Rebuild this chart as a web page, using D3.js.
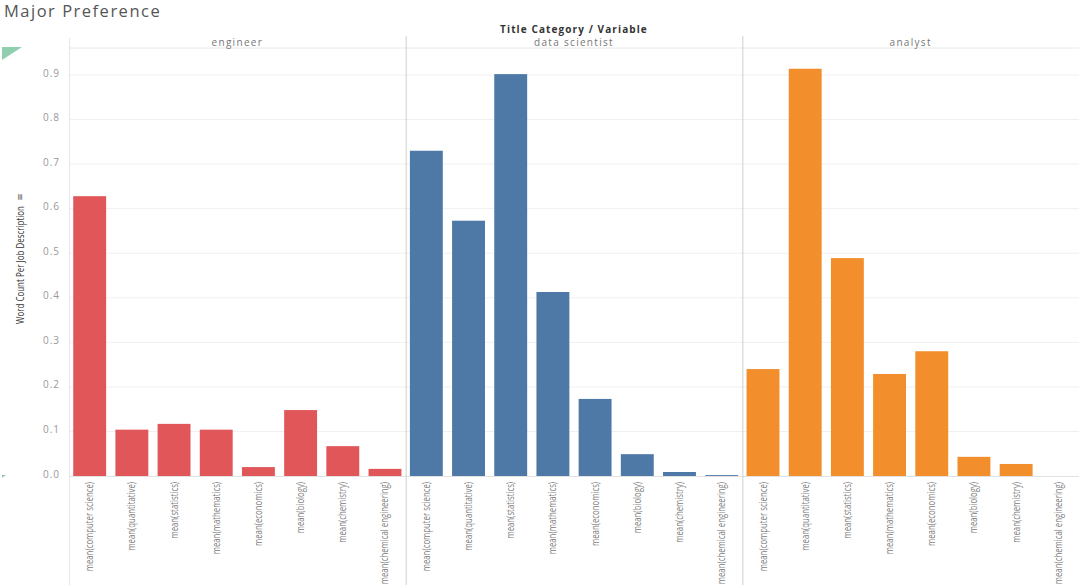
<!DOCTYPE html>
<html><head><meta charset="utf-8">
<script src="https://cdn.jsdelivr.net/npm/d3@7"></script>
<style>
body{margin:0;background:#fff;}
svg{display:block;}
</style></head>
<body>
<svg id="c" width="1080" height="585"></svg>
<script>
const panels = ["engineer", "data scientist", "analyst"];
const variables = ["mean(computer science)", "mean(quantitative)", "mean(statistics)", "mean(mathematics)", "mean(economics)", "mean(biology)", "mean(chemistry)", "mean(chemical engineering)"];
const engineerValues = [0.628, 0.104, 0.117, 0.104, 0.020, 0.148, 0.067, 0.016];
const dataScientistValues = [0.730, 0.573, 0.902, 0.413, 0.173, 0.049, 0.009, 0.002];
const analystValues = [0.240, 0.914, 0.489, 0.229, 0.280, 0.043, 0.027, 0.0];
const panelColors = ["#e15759", "#4e79a7", "#f28e2b"];
const yTicks = [0.0, 0.1, 0.2, 0.3, 0.4, 0.5, 0.6, 0.7, 0.8, 0.9];
const seriesValues = [engineerValues, dataScientistValues, analystValues];

const svg = d3.select("#c");
const plotLeft = 69, plotRight = 1079, plotTop = 48, plotBottom = 476;

const px = d3.scaleBand().domain(panels).range([plotLeft, plotRight]);
const y = d3.scaleLinear().domain([0, 0.9]).range([plotBottom, 75]);

// title
svg.append("text").attr("x", 4).attr("y", 17).text("Major Preference")
  .attr("font-family", "Open Sans, sans-serif").attr("font-size", 16.5).attr("fill", "#555").attr("letter-spacing", 1.5);

svg.append("text").attr("x", (plotLeft + plotRight) / 2).attr("y", 33).attr("text-anchor", "middle")
  .text("Title Category / Variable").attr("font-family", "Open Sans, sans-serif")
  .attr("font-size", 10).attr("font-weight", "bold").attr("fill", "#333").attr("letter-spacing", 1.1);

// gridlines
svg.append("g").selectAll("line").data(yTicks.slice(1)).join("line")
  .attr("x1", plotLeft).attr("x2", plotRight).attr("y1", d => y(d)).attr("y2", d => y(d))
  .attr("stroke", "#f0f0f0").attr("stroke-width", 1);
svg.append("line").attr("x1", plotLeft).attr("x2", plotRight).attr("y1", plotTop).attr("y2", plotTop)
  .attr("stroke", "#e8e8e8");

// y axis
const yAxis = d3.axisLeft(y).tickValues(yTicks).tickFormat(d3.format(".1f")).tickSize(0).tickPadding(9);
const ga = svg.append("g").attr("transform", `translate(${plotLeft},0)`).call(yAxis);
ga.select(".domain").remove();
ga.selectAll("text").attr("font-family", "Open Sans, sans-serif").attr("font-size", 10).attr("fill", "#999")
  .attr("letter-spacing", 1).attr("dy", "0.1em");

svg.append("text").attr("transform", `translate(24,${(plotTop + plotBottom) / 2 + 3}) rotate(-90) scale(0.76,1)`)
  .attr("text-anchor", "middle").text("Word Count Per Job Description")
  .attr("font-family", "Open Sans, sans-serif")
  .attr("font-size", 10.5).attr("fill", "#333");
svg.append("text").attr("transform", `translate(23,${(plotTop + plotBottom) / 2 - 65}) rotate(-90)`)
  .attr("text-anchor", "middle").text("≡").attr("font-size", 9).attr("fill", "#555")
  .attr("font-family", "DejaVu Sans, sans-serif");

// green decoration triangles
svg.append("path").attr("d", "M2,47 L22,47 L2,60 Z").attr("fill", "#8fcfad");
svg.append("path").attr("d", "M2,475 L6,475 L2,478 Z").attr("fill", "#8fcfad");

// panels
panels.forEach((p, i) => {
  const x0 = px(p);
  const xb = d3.scaleBand().domain(variables).range([x0, x0 + px.bandwidth()]).paddingInner(0.22).paddingOuter(0.1);
  const g = svg.append("g");
  const data = variables.map((v, j) => ({ v, val: seriesValues[i][j] }));
  g.selectAll("rect").data(data).join("rect")
    .attr("x", d => xb(d.v)).attr("width", xb.bandwidth())
    .attr("y", d => y(d.val)).attr("height", d => Math.max(0, plotBottom - y(d.val)))
    .attr("fill", panelColors[i]);
  // header
  svg.append("text").attr("x", x0 + px.bandwidth() / 2).attr("y", 46).attr("text-anchor", "middle")
    .text(p).attr("font-family", "Open Sans, sans-serif").attr("font-size", 10).attr("fill", "#777").attr("letter-spacing", 1.3);
  // x labels
  const xa = d3.axisBottom(xb).tickSize(0).tickPadding(0);
  const gx = svg.append("g").attr("transform", `translate(0,${plotBottom})`).call(xa);
  gx.select(".domain").remove();
  gx.selectAll("text").attr("transform", "rotate(-90) scale(0.78,1)").attr("text-anchor", "end")
    .attr("x", -7.5).attr("y", 0).attr("dy", "0.35em")
    .attr("font-family", "Open Sans, sans-serif")
    .attr("font-size", 10).attr("fill", "#808080");
});

// baseline
svg.append("line").attr("x1", plotLeft).attr("x2", plotRight).attr("y1", plotBottom + 0.5).attr("y2", plotBottom + 0.5).attr("stroke", "#e2e2e2");

// panel separators
[px(panels[0]), px(panels[1]), px(panels[2])].forEach((x, i) => {
  svg.append("line").attr("x1", x + 0.5).attr("x2", x + 0.5).attr("y1", i === 0 ? 38 : 36).attr("y2", 585)
    .attr("stroke", i === 0 ? "#e6e6e6" : "#cfcfcf");
});
</script>
</body></html>
